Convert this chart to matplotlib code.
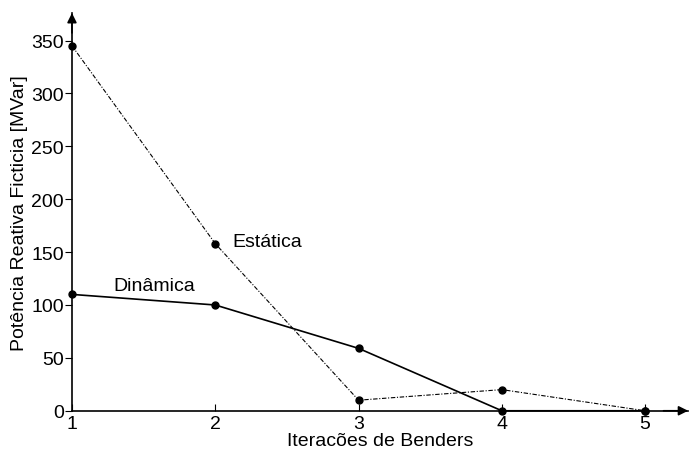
import matplotlib
matplotlib.use("Agg")
import matplotlib.pyplot as plt

iteracoes = [1, 2, 3, 4, 5]
estatica = [345, 158, 10, 20, 0]
dinamica = [110, 100, 59, 0, 0]
xticks = [1, 2, 3, 4, 5]
yticks = [0, 50, 100, 150, 200, 250, 300, 350]

plt.rcParams['font.family'] = ['Liberation Sans', 'DejaVu Sans']
fig = plt.figure(figsize=(6.9, 4.52), dpi=100)
ax = fig.add_axes([0.1043, 0.089, 0.893, 0.880])

ax.plot(iteracoes, dinamica, color='black', lw=1.2, marker='o', ms=5, clip_on=False, zorder=3)
ax.plot(iteracoes, estatica, color='black', lw=0.8, dashes=(4, 1.5, 1, 1.5), marker='o', ms=5, clip_on=False, zorder=3)

ax.text(2.12, 160, 'Estática', fontsize=14, va='center', ha='left')
ax.text(1.29, 118, 'Dinâmica', fontsize=14, va='center', ha='left')

ax.set_xlim(1, 5.3)
ax.set_ylim(0, 376)
ax.set_xticks(xticks)
ax.set_yticks(yticks)
ax.tick_params(axis='x', direction='in', length=5, labelsize=14, pad=3)
ax.tick_params(axis='y', direction='out', length=5, labelsize=14, pad=1)
for s in ['top', 'right']:
    ax.spines[s].set_visible(False)
for s in ['left', 'bottom']:
    ax.spines[s].set_linewidth(1.2)

ax.annotate('', xy=(0, 1.0), xytext=(0, 0.95), xycoords='axes fraction',
            arrowprops=dict(arrowstyle='-|>', color='black', lw=1.2, mutation_scale=14,
                            shrinkA=0, shrinkB=0))
ax.annotate('', xy=(1.0, 0), xytext=(0.96, 0), xycoords='axes fraction',
            arrowprops=dict(arrowstyle='-|>', color='black', lw=1.2, mutation_scale=14,
                            shrinkA=0, shrinkB=0))

ax.set_xlabel('Iteracões de Benders', fontsize=14, labelpad=0)
ax.set_ylabel('Potência Reativa Ficticia [MVar]', fontsize=14, labelpad=2)

fig.savefig('out.png', dpi=100)
